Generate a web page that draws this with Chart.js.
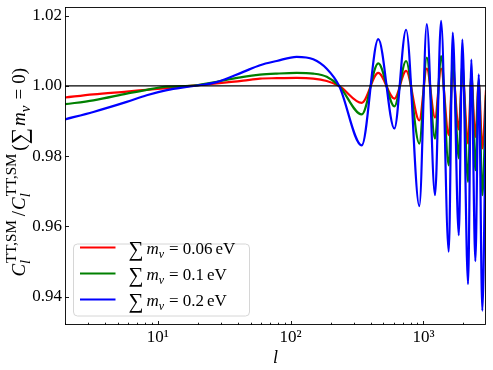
<!DOCTYPE html>
<html>
<head>
<meta charset="utf-8">
<script src="https://cdn.jsdelivr.net/npm/chart.js@4.4.1/dist/chart.umd.min.js"></script>
<style>
  html, body { margin: 0; padding: 0; background: #fff; }
  #wrap { width: 493px; height: 370px; position: relative; }
</style>
</head>
<body>
<div id="wrap"><canvas id="c" width="493" height="370"></canvas></div>
<script>
// multipole l (shared sampling, read at extrema and along the low-l rise)
const ells = [2, 3.27, 5.83, 8.25, 11.7, 17.5, 27.8, 44, 58.8, 78.6, 111, 148, 187, 232,
  343, 457, 604, 740, 931, 1060, 1222, 1358, 1550, 1662, 1845, 1963, 2167, 2294, 2460, 2609, 2775, 2958];
// ratio C_l^{TT,SM}(sum m_nu) / C_l^{TT,SM}(sum m_nu = 0)
const ratio006 = [0.9967, 0.9976, 0.9984, 0.9989, 0.9994, 1.0000, 1.0007, 1.0015, 1.0021, 1.0022, 1.0023, 1.0021, 1.0014, 1.0000,
  0.9952, 1.0037, 0.9964, 1.0043, 0.9902, 1.0049, 0.9910, 1.0049, 0.9860, 1.0042, 0.9876, 1.0038, 0.9836, 1.0022, 0.9855, 1.0010, 0.9822, 0.9988];
const ratio01 = [0.9948, 0.9959, 0.9978, 0.9989, 0.9998, 1.0000, 1.0012, 1.0026, 1.0032, 1.0035, 1.0037, 1.0035, 1.0026, 1.0000,
  0.9919, 1.0064, 0.9942, 1.0071, 0.9836, 1.0081, 0.9850, 1.0085, 0.9774, 1.0072, 0.9794, 1.0064, 0.9727, 1.0038, 0.9760, 1.0018, 0.9689, 0.9974];
const ratio02 = [0.9905, 0.9926, 0.99545, 0.99735, 0.9988, 0.99985, 1.0011, 1.0040, 1.0059, 1.0071, 1.0083, 1.0076, 1.0049, 1.0000,
  0.9831, 1.0133, 0.9879, 1.0160, 0.9658, 1.0176, 0.9689, 1.0185, 0.9528, 1.0152, 0.9575, 1.0132, 0.9436, 1.0075, 0.9501, 1.0033, 0.9360, 0.9960];
const seriesLabels = ['∑ mν = 0.06 eV', '∑ mν = 0.1 eV', '∑ mν = 0.2 eV'];
const massValues = ['0.06', '0.1', '0.2'];
const yTickValues = [0.94, 0.96, 0.98, 1.00, 1.02];
const xTickValues = [10, 100, 1000];
const xTickLabels = ['10¹', '10²', '10³'];
const referenceLevel = 1.0;
const lRange = [2, 2958];
const ratioRange = [0.93195, 1.02247];

const COLORS = ['#ff0000', '#008000', '#0000ff'];
const SERIF = '"Liberation Serif", "DejaVu Serif", serif';

function pts(vals) { return ells.map((l, i) => ({ x: l, y: vals[i] })); }

function fontOf(p) { return (p.it ? 'italic ' : '') + (p.s || 17) + 'px ' + SERIF; }
function layoutRich(ctx, parts, ss) {
  ss = ss || 12;
  let w = 0; const items = [];
  for (const p of parts) {
    if (p.sub !== undefined || p.sup !== undefined) {
      let ws = 0, wp = 0;
      if (p.sub) { ctx.font = fontOf({ it: p.subIt, s: ss }); ws = ctx.measureText(p.sub).width; items.push({ t: p.sub, f: ctx.font, x: w + (p.subX || 0), dy: Math.round(ss * 0.35) }); }
      if (p.sup) { ctx.font = fontOf({ s: ss }); wp = ctx.measureText(p.sup).width; items.push({ t: p.sup, f: ctx.font, x: w + 1, dy: -Math.round(ss * 0.6) }); }
      w += Math.max(ws, wp + 1) + (p.pr || 1);
    } else {
      ctx.font = fontOf(p);
      items.push({ t: p.t, f: ctx.font, x: w + (p.pl || 0), dy: p.dy || 0 });
      w += ctx.measureText(p.t).width + (p.pl || 0) + (p.pr || 0);
    }
  }
  return { w, items };
}
function drawRich(ctx, lay, x0, y0) {
  ctx.textBaseline = 'alphabetic'; ctx.textAlign = 'left';
  for (const it of lay.items) { ctx.font = it.f; ctx.fillText(it.t, x0 + it.x, y0 + it.dy); }
}

const deco = {
  id: 'deco',
  afterDraw(chart) {
    const { ctx, chartArea: ca, scales: { x, y } } = chart;
    ctx.save();
    ctx.strokeStyle = '#000'; ctx.lineWidth = 0.9;
    ctx.strokeRect(ca.left + 0.5, ca.top + 0.5, ca.right - ca.left - 1, ca.bottom - ca.top - 1);
    ctx.beginPath();
    yTickValues.forEach(v => {
      const py = Math.round(y.getPixelForValue(v)) + 0.5;
      ctx.moveTo(ca.left, py); ctx.lineTo(ca.left + 4, py);
    });
    for (let d = 1; d <= 1000; d *= 10) {
      for (let k = 1; k <= 9; k++) {
        const v = k * d; if (v < x.min || v > x.max) continue;
        const px = Math.round(x.getPixelForValue(v)) + 0.5;
        const len = k === 1 ? 4 : 2.3;
        ctx.moveTo(px, ca.bottom); ctx.lineTo(px, ca.bottom - len);
      }
    }
    ctx.stroke();

    // y axis title
    ctx.fillStyle = '#000';
    const ttl = layoutRich(ctx, [
      { t: 'C', it: 1, s: 19 }, { sub: 'l', subIt: 1, sup: 'TT,SM', subX: 0, pr: 3 },
      { t: '/', s: 19, pl: 1, pr: 1 },
      { t: 'C', it: 1, s: 19 }, { sub: 'l', subIt: 1, sup: 'TT,SM', pr: 3 },
      { t: '(', s: 19 }, { t: '∑', s: 23, dy: 2 }, { t: 'm', it: 1, s: 19, pl: 2 }, { sub: 'ν', subIt: 1 },
      { t: '=', s: 19, pl: 5, pr: 5 }, { t: '0)', s: 19 }
    ], 15);
    ctx.save();
    ctx.translate(25, 68 + ttl.w);
    ctx.rotate(-Math.PI / 2);
    drawRich(ctx, ttl, 0, 0);
    ctx.restore();

    // legend
    const bx = 73.5, by = 244, bw = 176, bh = 72, r = 4;
    ctx.beginPath();
    ctx.moveTo(bx + r, by); ctx.lineTo(bx + bw - r, by); ctx.quadraticCurveTo(bx + bw, by, bx + bw, by + r);
    ctx.lineTo(bx + bw, by + bh - r); ctx.quadraticCurveTo(bx + bw, by + bh, bx + bw - r, by + bh);
    ctx.lineTo(bx + r, by + bh); ctx.quadraticCurveTo(bx, by + bh, bx, by + bh - r);
    ctx.lineTo(bx, by + r); ctx.quadraticCurveTo(bx, by, bx + r, by); ctx.closePath();
    ctx.fillStyle = 'rgba(255,255,255,0.8)'; ctx.fill();
    ctx.strokeStyle = '#d6d6d6'; ctx.lineWidth = 1; ctx.stroke();
    const rows = [247.5, 273.5, 299.5];
    chart.data.datasets.slice(1).reverse().forEach((ds, i) => {
      ctx.strokeStyle = ds.borderColor; ctx.lineWidth = 2.2;
      ctx.beginPath(); ctx.moveTo(80, rows[i]); ctx.lineTo(115.5, rows[i]); ctx.stroke();
      ctx.fillStyle = '#000';
      const lay = layoutRich(ctx, [
        { t: '∑', s: 21, dy: 2 }, { t: 'm', it: 1, pl: 3 }, { sub: 'ν', subIt: 1 },
        { t: '=', pl: 4, pr: 4 }, { t: massValues[i], pr: 3 }, { t: 'eV' }
      ]);
      drawRich(ctx, lay, 128.5, rows[i] + 6);
    });
    ctx.restore();
  }
};

new Chart(document.getElementById('c'), {
  type: 'line',
  data: {
    datasets: [
      { label: 'reference', data: [{ x: lRange[0], y: referenceLevel }, { x: lRange[1], y: referenceLevel }],
        borderColor: '#000', borderWidth: 1.3, pointRadius: 0, tension: 0 },
      { label: seriesLabels[2], data: pts(ratio02), borderColor: COLORS[2], borderWidth: 2.2, pointRadius: 0, cubicInterpolationMode: 'monotone' },
      { label: seriesLabels[1], data: pts(ratio01), borderColor: COLORS[1], borderWidth: 2.2, pointRadius: 0, cubicInterpolationMode: 'monotone' },
      { label: seriesLabels[0], data: pts(ratio006), borderColor: COLORS[0], borderWidth: 2.2, pointRadius: 0, cubicInterpolationMode: 'monotone' }
    ]
  },
  options: {
    responsive: false, animation: false, parsing: true,
    layout: { padding: { top: 7, right: 7, left: 0, bottom: 0 } },
    plugins: { legend: { display: false }, tooltip: { enabled: false } },
    scales: {
      x: {
        type: 'logarithmic', min: lRange[0], max: lRange[1],
        grid: { display: false, drawTicks: false }, border: { display: false },
        afterBuildTicks: s => { s.ticks = xTickValues.map(v => ({ value: v })); },
        afterFit: s => { s.height = 45; s.paddingLeft = 0; s.paddingRight = 0; },
        ticks: { autoSkip: false, maxRotation: 0, padding: 2, color: '#000',
          font: { family: SERIF, size: 17 },
          callback: v => { const i = xTickValues.indexOf(v); return i >= 0 ? xTickLabels[i] : ''; } },
        title: { display: true, text: 'l', color: '#000', font: { family: SERIF, size: 18, style: 'italic' }, padding: { top: 0, bottom: 1 } }
      },
      y: {
        type: 'linear', min: ratioRange[0], max: ratioRange[1],
        grid: { display: false, drawTicks: false }, border: { display: false },
        afterBuildTicks: s => { s.ticks = yTickValues.map(v => ({ value: v })); },
        afterFit: s => { s.width = 65; s.paddingTop = 0; s.paddingBottom = 0; },
        ticks: { padding: 3, color: '#000', font: { family: SERIF, size: 17 }, callback: v => Number(v).toFixed(2) }
      }
    }
  },
  plugins: [deco]
});
</script>
</body>
</html>
